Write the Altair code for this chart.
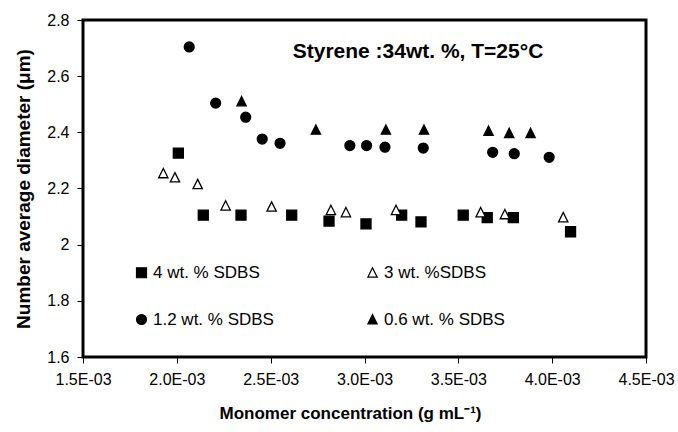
import altair as alt
import pandas as pd

# legend order: column 1 = 4 wt / 1.2 wt, column 2 = 3 wt / 0.6 wt
series_names = ["4 wt. % SDBS", "1.2 wt. % SDBS", "3 wt. %SDBS", "0.6 wt. %  SDBS"]
TRI = "M0,-1L0.95,0.9L-0.95,0.9Z"
series_shapes = ["square", "circle", TRI, TRI]
series_fills = ["black", "black", "white", "black"]
series_sizes = [100, 95, 150, 140]

x_4 = [2.008e-3, 2.141e-3, 2.342e-3, 2.612e-3, 2.811e-3, 3.008e-3, 3.198e-3, 3.301e-3, 3.526e-3, 3.654e-3, 3.793e-3, 4.098e-3]
y_4 = [2.326, 2.105, 2.105, 2.105, 2.084, 2.074, 2.105, 2.081, 2.105, 2.096, 2.096, 2.046]

x_12 = [2.066e-3, 2.207e-3, 2.367e-3, 2.455e-3, 2.550e-3, 2.922e-3, 3.011e-3, 3.109e-3, 3.313e-3, 3.683e-3, 3.798e-3, 3.984e-3]
y_12 = [2.704, 2.504, 2.454, 2.376, 2.361, 2.353, 2.353, 2.347, 2.344, 2.329, 2.324, 2.311]

x_3 = [1.928e-3, 1.990e-3, 2.111e-3, 2.260e-3, 2.505e-3, 2.821e-3, 2.901e-3, 3.168e-3, 3.619e-3, 3.748e-3, 4.059e-3]
y_3 = [2.254, 2.239, 2.215, 2.139, 2.135, 2.123, 2.115, 2.123, 2.115, 2.108, 2.097]

x_06 = [2.345e-3, 2.741e-3, 3.114e-3, 3.317e-3, 3.661e-3, 3.771e-3, 3.885e-3]
y_06 = [2.510, 2.409, 2.409, 2.409, 2.405, 2.397, 2.397]

x_ticks = [1.5e-3, 2.0e-3, 2.5e-3, 3.0e-3, 3.5e-3, 4.0e-3, 4.5e-3]
y_ticks = [1.6, 1.8, 2.0, 2.2, 2.4, 2.6, 2.8]

annotation = "Styrene :34wt. %, T=25°C"

rows = []
for name, xs, ys in zip(series_names, [x_4, x_12, x_3, x_06], [y_4, y_12, y_3, y_06]):
    for xv, yv in zip(xs, ys):
        rows.append({"conc": xv, "diam": yv, "series": name})
df = pd.DataFrame(rows)

FONT = "Liberation Sans"

legend = alt.Legend(
    title=None, orient="none", legendX=50, legendY=244, columns=2,
    columnPadding=90, rowPadding=29, labelFontSize=17, labelFont=FONT,
    labelColor="black", symbolStrokeColor="black",
    symbolStrokeWidth=1.2, symbolOpacity=1, labelOffset=3, padding=0,
)

points = alt.Chart(df).mark_point(stroke="black", strokeWidth=1.3, opacity=1).encode(
    x=alt.X("conc:Q",
            scale=alt.Scale(domain=[1.5e-3, 4.5e-3], nice=False, zero=False),
            axis=alt.Axis(values=x_ticks, labelFlush=False, labelOverlap=False,
                          labelExpr="format(datum.value*1000, '.1f') + 'E-03'",
                          title="Monomer concentration (g mL⁻¹)", titlePadding=18,
                          titleFontSize=17, titleX=267)),
    y=alt.Y("diam:Q",
            scale=alt.Scale(domain=[1.6, 2.8], nice=False, zero=False),
            axis=alt.Axis(values=y_ticks, format="~g", labelFlush=False, labelOverlap=False,
                          title="Number average diameter (μm)", titlePadding=13,
                          titleFontSize=19)),
    shape=alt.Shape("series:N", scale=alt.Scale(domain=series_names, range=series_shapes), legend=legend),
    fill=alt.Fill("series:N", scale=alt.Scale(domain=series_names, range=series_fills), legend=legend),
    stroke=alt.Stroke("series:N", scale=alt.Scale(domain=series_names, range=["black"] * 4), legend=legend),
    size=alt.Size("series:N", scale=alt.Scale(domain=series_names, range=series_sizes), legend=legend),
)

note = alt.Chart(pd.DataFrame({"t": [annotation]})).mark_text(
    font=FONT, fontSize=21, fontWeight="bold", color="black", align="center", baseline="middle"
).encode(text="t:N", x=alt.value(335), y=alt.value(32))

chart = alt.layer(points, note).properties(
    width=563, height=337,
    autosize=alt.AutoSizeParams(type="none"),
    padding={"left": 83, "top": 20, "right": 32, "bottom": 75},
).configure_view(
    stroke="black", strokeWidth=3
).configure_axis(
    domain=False, grid=False, tickColor="black", tickSize=6, tickWidth=1,
    labelColor="black", labelFont=FONT, labelFontSize=16, labelPadding=8,
    titleFont=FONT, titleFontWeight="bold", titleColor="black",
)

chart.save("out.html", embed_options={"renderer": "svg", "actions": False})
